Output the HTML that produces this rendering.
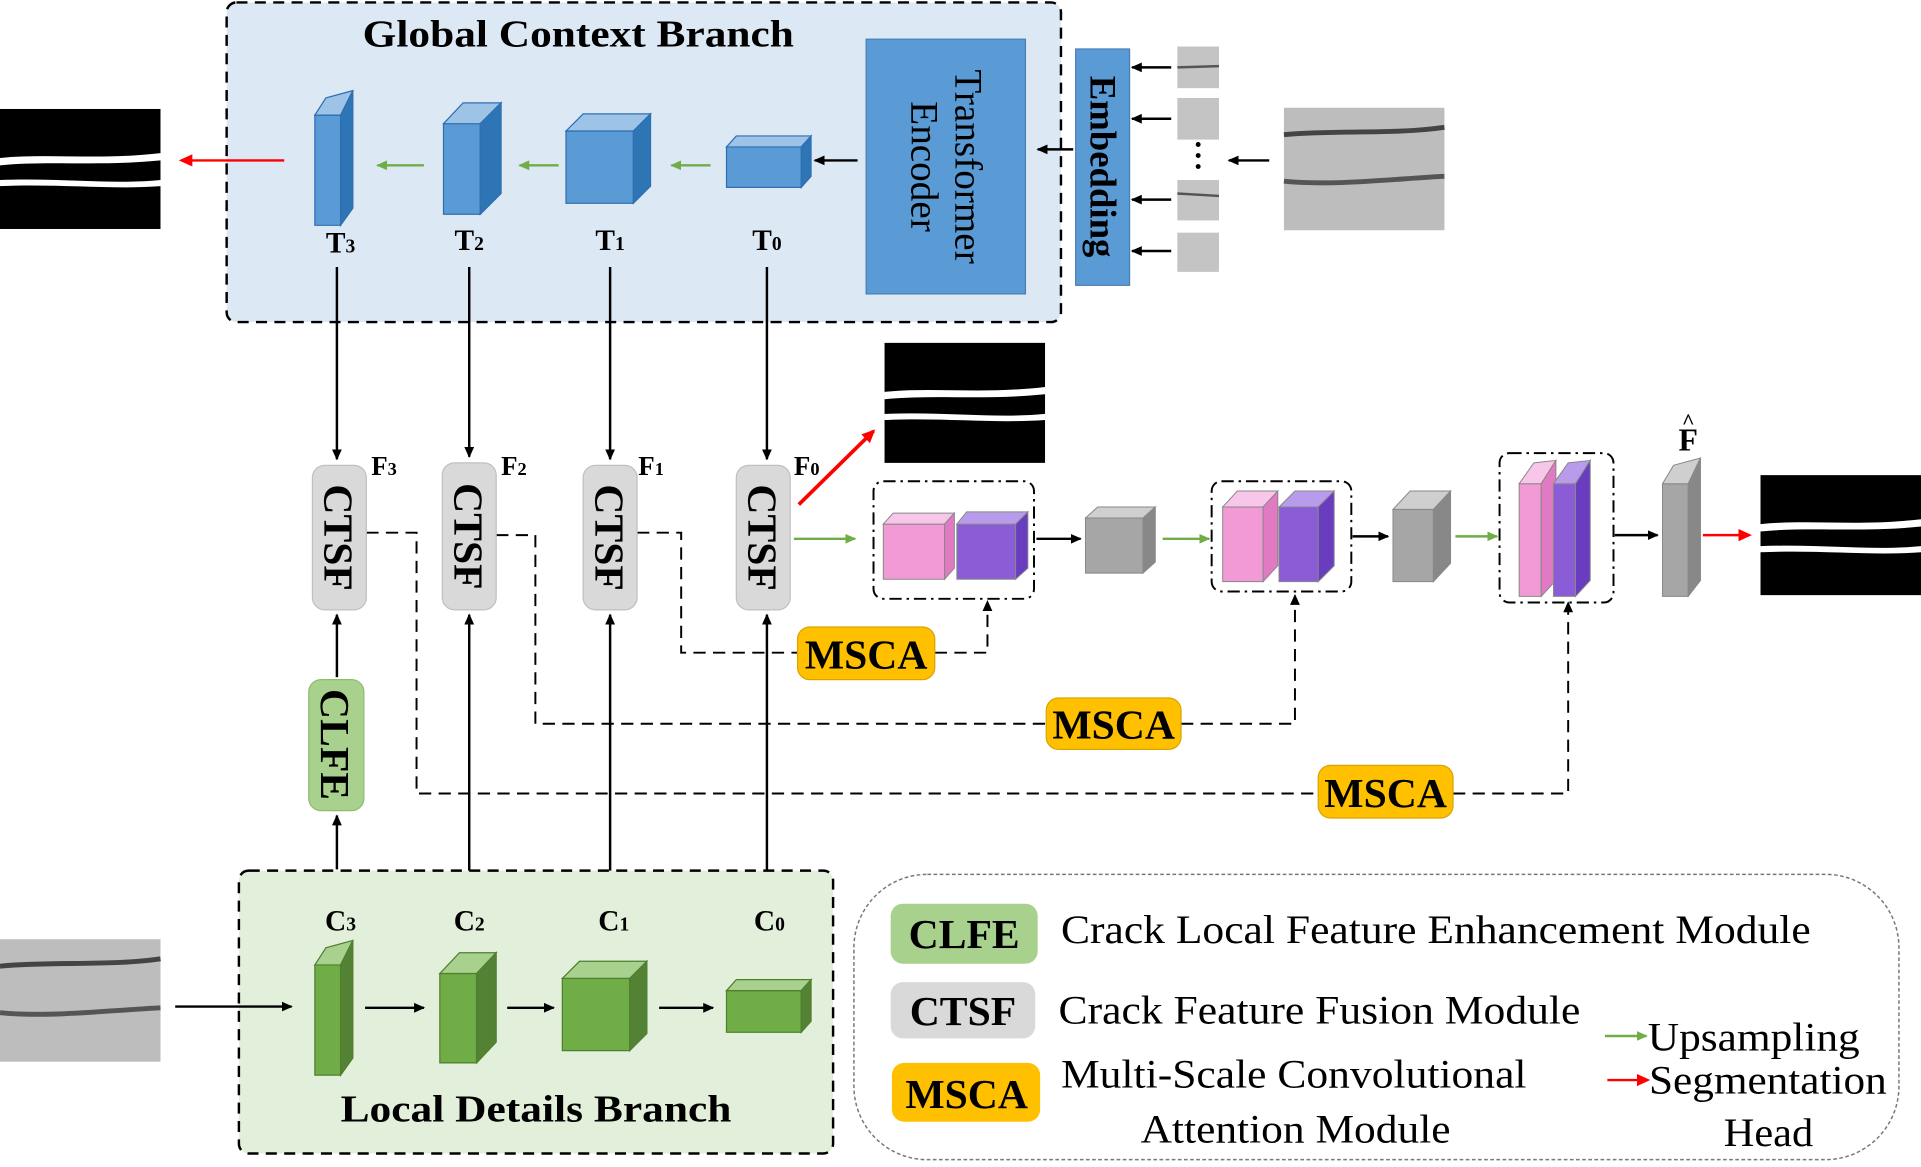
<!DOCTYPE html>
<html><head><meta charset="utf-8"><style>
html,body{margin:0;padding:0;background:#fff;}
svg{display:block;}
text{font-family:"Liberation Serif",serif;}
</style></head><body>
<svg width="1921" height="1167" viewBox="0 0 1568 953" preserveAspectRatio="none" xmlns="http://www.w3.org/2000/svg">
<defs>
<marker id="ak" markerWidth="10" markerHeight="10" refX="8" refY="5" orient="auto" markerUnits="userSpaceOnUse"><path d="M0,1 L9,5 L0,9 Z" fill="#000"/></marker>
<marker id="ag" markerWidth="10" markerHeight="10" refX="8" refY="5" orient="auto" markerUnits="userSpaceOnUse"><path d="M0,1 L9,5 L0,9 Z" fill="#70ad47"/></marker>
<marker id="ar" markerWidth="12" markerHeight="12" refX="9" refY="6" orient="auto" markerUnits="userSpaceOnUse"><path d="M0,1 L11,6 L0,11 Z" fill="#f00"/></marker>
<g id="mask"><rect width="131" height="98" fill="#000"/><path d="M0,40 C40,36 80,42 131,36 L131,42 C80,47 40,42 0,46Z" fill="#fff"/><path d="M0,58 C50,56 90,62 131,58 L131,63 C90,66 50,61 0,63Z" fill="#fff"/></g>
<g id="crack"><rect width="131" height="100" fill="#bdbdbd"/><path d="M0,22 C40,18 90,22 131,16" stroke="#444" stroke-width="4" fill="none"/><path d="M0,60 C40,64 90,58 131,56" stroke="#555" stroke-width="4" fill="none"/></g>
</defs>

<rect x="185" y="2" width="681" height="261" rx="8" fill="#dde8f5" stroke="#000" stroke-width="2" stroke-dasharray="9,6"/>
<text x="296" y="38" font-size="31" font-weight="bold" textLength="352" lengthAdjust="spacingAndGlyphs">Global Context Branch</text>
<rect x="707" y="32" width="130" height="208" fill="#5b9bd5" stroke="#4a7fb5"/>
<text transform="translate(772,136) rotate(90)" font-size="32" text-anchor="middle"><tspan x="0" y="-8">Transformer</tspan><tspan x="0" y="28">Encoder</tspan></text>
<rect x="878" y="40" width="44" height="193" fill="#5b9bd5" stroke="#4a7fb5"/>
<text transform="translate(900,136) rotate(90)" font-size="30" font-weight="bold" text-anchor="middle" y="10">Embedding</text>
<g fill="#c4c4c4"><rect x="961" y="38" width="34" height="34"/><rect x="961" y="80" width="34" height="34"/><rect x="961" y="147" width="34" height="33"/><rect x="961" y="190" width="34" height="32"/></g>
<g stroke="#555" stroke-width="2"><line x1="961" y1="55" x2="995" y2="54"/><line x1="961" y1="158" x2="995" y2="160"/></g>
<g fill="#000"><circle cx="978" cy="118" r="2"/><circle cx="978" cy="127" r="2"/><circle cx="978" cy="136" r="2"/></g>
<use href="#crack" x="1048" y="88"/>
<use href="#mask" x="0" y="89"/>
<g stroke="#000" stroke-width="2" marker-end="url(#ak)">
<line x1="956" y1="55" x2="924" y2="55"/><line x1="956" y1="97" x2="924" y2="97"/><line x1="956" y1="163" x2="924" y2="163"/><line x1="956" y1="205" x2="924" y2="205"/>
<line x1="1036" y1="131" x2="1003" y2="131"/><line x1="876" y1="122" x2="847" y2="122"/><line x1="700" y1="131" x2="665" y2="131"/>
</g>
<g stroke="#2e6fb0" stroke-width="1">
<path d="M257,94 L278,94 L278,184 L257,184Z" fill="#5b9bd5"/><path d="M257,94 L266,80 L288,74 L278,94Z" fill="#9dc3e6"/><path d="M278,94 L288,74 L288,170 L278,184Z" fill="#2e75b6"/>
<path d="M362,101 L392,101 L392,175 L362,175Z" fill="#5b9bd5"/><path d="M362,101 L378,84 L409,84 L392,101Z" fill="#9dc3e6"/><path d="M392,101 L409,84 L409,158 L392,175Z" fill="#2e75b6"/>
<path d="M462,107 L517,107 L517,166 L462,166Z" fill="#5b9bd5"/><path d="M462,107 L476,93 L531,93 L517,107Z" fill="#9dc3e6"/><path d="M517,107 L531,93 L531,152 L517,166Z" fill="#2e75b6"/>
<path d="M593,120 L654,120 L654,153 L593,153Z" fill="#5b9bd5"/><path d="M593,120 L601,111 L662,111 L654,120Z" fill="#9dc3e6"/><path d="M654,120 L662,111 L662,144 L654,153Z" fill="#2e75b6"/>
</g>
<g stroke="#70ad47" stroke-width="2" marker-end="url(#ag)">
<line x1="580" y1="135" x2="548" y2="135"/><line x1="456" y1="135" x2="424" y2="135"/><line x1="346" y1="135" x2="308" y2="135"/>
</g>
<line x1="232" y1="131" x2="148" y2="131" stroke="#f00" stroke-width="2" marker-end="url(#ar)"/>
<g font-size="24" font-weight="bold" text-anchor="middle">
<text x="278" y="206">T<tspan font-size="16">3</tspan></text><text x="383" y="204">T<tspan font-size="16">2</tspan></text><text x="498" y="204">T<tspan font-size="16">1</tspan></text><text x="626" y="204">T<tspan font-size="16">0</tspan></text>
</g>
<g stroke="#000" stroke-width="2" marker-end="url(#ak)">
<line x1="275" y1="218" x2="275" y2="375"/><line x1="383" y1="218" x2="383" y2="373"/><line x1="498" y1="218" x2="498" y2="375"/><line x1="626" y1="218" x2="626" y2="375"/>
</g>

<g stroke="#000" stroke-width="1.6" stroke-dasharray="10,6" fill="none">
<path d="M299,435 L340,435 L340,648 L1076,648"/><path d="M1186,648 L1280,648 L1280,496"/>
<path d="M405,437 L437,437 L437,591 L854,591"/><path d="M964,591 L1057,591 L1057,489"/>
<path d="M520,435 L556,435 L556,533 L651,533"/><path d="M763,533 L806,533 L806,494"/>
</g>
<g fill="#000"><path d="M1276,500 L1280,491 L1284,500Z"/><path d="M1053,494 L1057,485 L1061,494Z"/><path d="M802,499 L806,490 L810,499Z"/></g>
<g font-size="34" font-weight="bold" text-anchor="middle">
<rect x="651" y="512" width="112" height="43" rx="10" fill="#ffc000" stroke="#d9a400"/><text x="707" y="546">MSCA</text>
<rect x="854" y="570" width="110" height="42" rx="10" fill="#ffc000" stroke="#d9a400"/><text x="909" y="603">MSCA</text>
<rect x="1076" y="625" width="110" height="43" rx="10" fill="#ffc000" stroke="#d9a400"/><text x="1131" y="659">MSCA</text>
</g>

<g fill="#d9d9d9" stroke="#c0c0c0">
<rect x="255" y="380" width="44" height="118" rx="10"/><rect x="361" y="378" width="44" height="120" rx="10"/><rect x="476" y="380" width="44" height="118" rx="10"/><rect x="601" y="380" width="44" height="118" rx="10"/>
</g>
<g font-size="34" font-weight="bold" text-anchor="middle">
<text transform="translate(277,439) rotate(90)" y="12">CTSF</text><text transform="translate(383,438) rotate(90)" y="12">CTSF</text><text transform="translate(498,439) rotate(90)" y="12">CTSF</text><text transform="translate(623,439) rotate(90)" y="12">CTSF</text>
</g>
<g font-size="22" font-weight="bold">
<text x="303" y="388">F<tspan font-size="15">3</tspan></text><text x="409" y="388">F<tspan font-size="15">2</tspan></text><text x="521" y="388">F<tspan font-size="15">1</tspan></text><text x="648" y="388">F<tspan font-size="15">0</tspan></text>
</g>
<rect x="252" y="555" width="45" height="107" rx="10" fill="#a9d18e" stroke="#8fbc70"/>
<text transform="translate(274,608) rotate(90)" y="12" font-size="34" font-weight="bold" text-anchor="middle">CLFE</text>
<g stroke="#000" stroke-width="2" marker-end="url(#ak)">
<line x1="275" y1="553" x2="275" y2="502"/><line x1="275" y1="710" x2="275" y2="666"/>
<line x1="383" y1="738" x2="383" y2="502"/><line x1="498" y1="738" x2="498" y2="502"/><line x1="626" y1="738" x2="626" y2="502"/>
</g>

<rect x="195" y="711" width="485" height="231" rx="8" fill="#e2efda" stroke="#000" stroke-width="2" stroke-dasharray="9,6"/>
<text x="278" y="916" font-size="31" font-weight="bold" textLength="319" lengthAdjust="spacingAndGlyphs">Local Details Branch</text>
<g font-size="24" font-weight="bold" text-anchor="middle">
<text x="278" y="760">C<tspan font-size="16">3</tspan></text><text x="383" y="760">C<tspan font-size="16">2</tspan></text><text x="501" y="760">C<tspan font-size="16">1</tspan></text><text x="628" y="760">C<tspan font-size="16">0</tspan></text>
</g>
<g stroke="#4e7f2e" stroke-width="1">
<path d="M257,788 L278,788 L278,878 L257,878Z" fill="#70ad47"/><path d="M257,788 L266,774 L288,768 L278,788Z" fill="#a9d18e"/><path d="M278,788 L288,768 L288,864 L278,878Z" fill="#548235"/>
<path d="M359,795 L389,795 L389,868 L359,868Z" fill="#70ad47"/><path d="M359,795 L375,778 L405,778 L389,795Z" fill="#a9d18e"/><path d="M389,795 L405,778 L405,851 L389,868Z" fill="#548235"/>
<path d="M459,799 L514,799 L514,858 L459,858Z" fill="#70ad47"/><path d="M459,799 L473,785 L528,785 L514,799Z" fill="#a9d18e"/><path d="M514,799 L528,785 L528,844 L514,858Z" fill="#548235"/>
<path d="M593,809 L654,809 L654,843 L593,843Z" fill="#70ad47"/><path d="M593,809 L601,800 L662,800 L654,809Z" fill="#a9d18e"/><path d="M654,809 L662,800 L662,834 L654,843Z" fill="#548235"/>
</g>
<use href="#crack" x="0" y="767"/>
<g stroke="#000" stroke-width="2" marker-end="url(#ak)">
<line x1="143" y1="822" x2="238" y2="822"/><line x1="298" y1="823" x2="346" y2="823"/><line x1="414" y1="823" x2="452" y2="823"/><line x1="538" y1="823" x2="582" y2="823"/>
</g>

<line x1="652" y1="412" x2="713" y2="352" stroke="#f00" stroke-width="3" marker-end="url(#ar)"/>
<use href="#mask" x="722" y="280"/>
<g stroke="#70ad47" stroke-width="2" marker-end="url(#ag)">
<line x1="648" y1="440" x2="698" y2="440"/><line x1="949" y1="440" x2="987" y2="440"/><line x1="1188" y1="438" x2="1222" y2="438"/>
</g>
<g stroke="#000" stroke-width="1.6" stroke-dasharray="10,4,2,4" fill="none">
<rect x="713" y="393" width="131" height="96" rx="8"/><rect x="989" y="393" width="114" height="90" rx="8"/><rect x="1224" y="370" width="93" height="122" rx="8"/>
</g>
<g stroke="#888" stroke-width="0.8">
<path d="M721,428 L771,428 L771,473 L721,473Z" fill="#f19ad6"/><path d="M721,428 L729,419 L779,419 L771,428Z" fill="#f8c6e9"/><path d="M771,428 L779,419 L779,464 L771,473Z" fill="#e07ac3"/>
<path d="M781,428 L829,428 L829,473 L781,473Z" fill="#8a5cd6"/><path d="M781,428 L789,418 L839,418 L829,428Z" fill="#b89bea"/><path d="M829,428 L839,418 L839,464 L829,473Z" fill="#6a3cc0"/>
<path d="M886,423 L933,423 L933,468 L886,468Z" fill="#a6a6a6"/><path d="M886,423 L896,414 L943,414 L933,423Z" fill="#cfcfcf"/><path d="M933,423 L943,414 L943,459 L933,468Z" fill="#888"/>
<path d="M998,414 L1031,414 L1031,475 L998,475Z" fill="#f19ad6"/><path d="M998,414 L1010,401 L1043,401 L1031,414Z" fill="#f8c6e9"/><path d="M1031,414 L1043,401 L1043,462 L1031,475Z" fill="#e07ac3"/>
<path d="M1044,414 L1076,414 L1076,475 L1044,475Z" fill="#8a5cd6"/><path d="M1044,414 L1057,401 L1089,401 L1076,414Z" fill="#b89bea"/><path d="M1076,414 L1089,401 L1089,462 L1076,475Z" fill="#6a3cc0"/>
<path d="M1137,416 L1170,416 L1170,475 L1137,475Z" fill="#a6a6a6"/><path d="M1137,416 L1151,401 L1184,401 L1170,416Z" fill="#cfcfcf"/><path d="M1170,416 L1184,401 L1184,460 L1170,475Z" fill="#888"/>
<path d="M1240,395 L1258,395 L1258,487 L1240,487Z" fill="#f19ad6"/><path d="M1240,395 L1252,378 L1270,376 L1258,395Z" fill="#f8c6e9"/><path d="M1258,395 L1270,376 L1270,474 L1258,487Z" fill="#e07ac3"/>
<path d="M1268,395 L1286,395 L1286,487 L1268,487Z" fill="#8a5cd6"/><path d="M1268,395 L1280,378 L1298,376 L1286,395Z" fill="#b89bea"/><path d="M1286,395 L1298,376 L1298,474 L1286,487Z" fill="#6a3cc0"/>
<path d="M1357,395 L1378,395 L1378,487 L1357,487Z" fill="#a6a6a6"/><path d="M1357,395 L1366,380 L1388,374 L1378,395Z" fill="#cfcfcf"/><path d="M1378,395 L1388,374 L1388,474 L1378,487Z" fill="#888"/>
</g>
<g stroke="#000" stroke-width="2" marker-end="url(#ak)">
<line x1="846" y1="440" x2="882" y2="440"/><line x1="1104" y1="438" x2="1133" y2="438"/><line x1="1318" y1="437" x2="1353" y2="437"/>
</g>
<line x1="1390" y1="437" x2="1428" y2="437" stroke="#f00" stroke-width="2" marker-end="url(#ar)"/>
<text x="1378" y="368" font-size="26" font-weight="bold" text-anchor="middle">F</text>
<text x="1378" y="350" font-size="18" font-weight="bold" text-anchor="middle">^</text>
<use href="#mask" x="1437" y="388"/>

<rect x="697" y="714" width="853" height="233" rx="60" fill="#fff" stroke="#777" stroke-width="1.2" stroke-dasharray="3,2"/>
<rect x="727" y="738" width="120" height="49" rx="10" fill="#a9d18e"/>
<rect x="727" y="802" width="118" height="46" rx="10" fill="#d9d9d9"/>
<rect x="728" y="868" width="121" height="48" rx="10" fill="#ffc000"/>
<g font-size="34" font-weight="bold" text-anchor="middle">
<text x="787" y="774">CLFE</text><text x="786" y="837">CTSF</text><text x="789" y="905">MSCA</text>
</g>
<g font-size="33" lengthAdjust="spacingAndGlyphs">
<text x="866" y="770" textLength="612" lengthAdjust="spacingAndGlyphs">Crack Local Feature Enhancement Module</text>
<text x="864" y="836" textLength="426" lengthAdjust="spacingAndGlyphs">Crack Feature Fusion Module</text>
<text x="866" y="888" textLength="380" lengthAdjust="spacingAndGlyphs">Multi-Scale Convolutional</text>
<text x="931" y="933" textLength="253" lengthAdjust="spacingAndGlyphs">Attention Module</text>
<text x="1345" y="858" textLength="173" lengthAdjust="spacingAndGlyphs">Upsampling</text>
<text x="1346" y="893" textLength="194" lengthAdjust="spacingAndGlyphs">Segmentation</text>
<text x="1407" y="936" textLength="73" lengthAdjust="spacingAndGlyphs">Head</text>
</g>
<line x1="1310" y1="846" x2="1344" y2="846" stroke="#70ad47" stroke-width="2" marker-end="url(#ag)"/>
<line x1="1312" y1="882" x2="1345" y2="882" stroke="#f00" stroke-width="2" marker-end="url(#ar)"/>
</svg>
</body></html>
